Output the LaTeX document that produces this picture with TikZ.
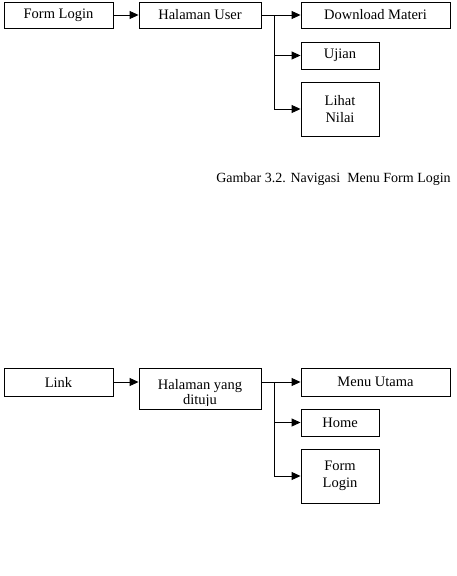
\documentclass[tikz,border=0pt]{standalone}
\usepackage{fontspec}
\setmainfont{Liberation Serif}
\usetikzlibrary{arrows.meta}
\begin{document}
\begin{tikzpicture}[x=1pt,y=-1pt,
  box/.style={draw,line width=0.9pt,inner sep=0pt,align=center,font=\fontsize{14.5}{17}\selectfont},
  arr/.style={line width=0.9pt,-{Triangle[length=9pt,width=8pt]}},
  ln/.style={line width=0.9pt}]
\useasboundingbox (0,0) rectangle (457,576);
% top diagram
\node[box,minimum width=109pt,minimum height=26pt] (fl) at (58.5,15) {Form Login};
\node[box,minimum width=122pt,minimum height=26pt] (hu) at (200,15) {Halaman User};
\node[box,minimum width=149pt,minimum height=26pt] (dm) at (375.5,15) {Download Materi};
\node[box,minimum width=78pt,minimum height=27pt] (uj) at (340,55.5) {Ujian};
\node[box,minimum width=78pt,minimum height=54pt] (lnl) at (340,109) {Lihat\\Nilai};
\coordinate (j1) at (274,15);
\draw[arr] (fl.east) -- (hu.west);
\draw[arr] (hu.east) -- (dm.west);
\draw[arr] (j1) |- (uj.west);
\draw[arr] (j1) |- (lnl.west);
\node[font=\fontsize{14}{17}\selectfont,inner sep=0pt] (cap) at (333.5,179) {Gambar 3.2. Navigasi\ \ Menu Form Login};
% bottom diagram
\node[box,minimum width=109pt,minimum height=28pt] (lk) at (58.5,382) {Link};
\node[draw,line width=0.9pt,minimum width=122pt,minimum height=41pt,inner sep=0pt] (hy) at (200,388.5) {};
\coordinate (clipb) at (261,405);
\begin{scope}
\clip (hy.north west) rectangle (clipb);
\node[font=\fontsize{14.5}{15.3}\selectfont,inner sep=0pt,align=center,anchor=base] (hyt) at (200,404.3) {Halaman yang\\dituju};
\end{scope}
\node[box,minimum width=149pt,minimum height=28pt] (mu) at (375.5,382) {Menu Utama};
\node[box,minimum width=78pt,minimum height=27pt] (hm) at (340,422.5) {Home};
\node[box,minimum width=78pt,minimum height=54pt] (fl2) at (340,476) {Form\\Login};
\coordinate (j2) at (274,382);
\draw[arr] (lk.east) -- (lk.east -| hy.west);
\draw[ln] (lk.east -| hy.east) -- (j2);
\draw[arr] (j2) -- (mu.west);
\draw[arr] (j2) |- (hm.west);
\draw[arr] (j2) |- (fl2.west);
\end{tikzpicture}
\end{document}
